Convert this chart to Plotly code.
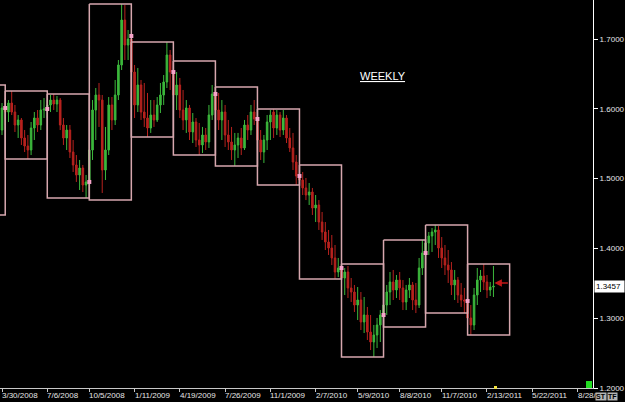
import pandas as pd
import plotly.graph_objects as go

# ---------------- weekly candles (week starting Sunday) ----------------
weeks = pd.date_range("2008-03-30", periods=153, freq="7D")

opens = [
    1.5696,
    # Q2 2008
    1.6012, 1.5954, 1.6083, 1.5954, 1.5768, 1.5840, 1.5582, 1.5467, 1.5410, 1.5725, 1.5868, 1.5768, 1.5983,
    # Q3 2008
    1.5997, 1.6055, 1.6126, 1.6069, 1.6126, 1.5768, 1.5582, 1.5696, 1.5381, 1.5195, 1.5052, 1.5152, 1.4908,
    # Q4 2008
    1.4952, 1.5410, 1.5983, 1.6198, 1.6126, 1.5123, 1.5410, 1.6055, 1.5840, 1.6198, 1.6628, 1.7272, 1.6914,
    # Q1 2009
    1.7000, 1.6527, 1.6055, 1.6341, 1.5954, 1.5868, 1.5725, 1.5911, 1.5840, 1.6055, 1.6198, 1.6384, 1.6771,
    # Q2 2009
    1.6527, 1.6198, 1.6341, 1.5983, 1.5840, 1.6012, 1.5668, 1.5811, 1.5553, 1.5482, 1.5625, 1.5525, 1.5911,
    # Q3 2009
    1.6212, 1.5983, 1.5840, 1.5954, 1.5625, 1.5525, 1.5410, 1.5482, 1.5582, 1.5439, 1.5768, 1.5696, 1.5954,
    # Q4 2009
    1.5854, 1.5553, 1.5381, 1.5553, 1.5811, 1.5954, 1.5725, 1.5911, 1.5696, 1.5868, 1.5582, 1.5439, 1.5238,
    # Q1 2010
    1.5037, 1.4980, 1.4866, 1.4765, 1.4808, 1.4579, 1.4622, 1.4378, 1.4235, 1.4092, 1.4006, 1.3863, 1.3662,
    # Q2 2010
    1.3719, 1.3576, 1.3662, 1.3433, 1.3375, 1.3189, 1.3261, 1.2946, 1.3046, 1.2802, 1.2659, 1.2759, 1.2903,
    # Q3 2010
    1.3046, 1.3189, 1.3375, 1.3519, 1.3404, 1.3547, 1.3433, 1.3232, 1.3404, 1.3476, 1.3261, 1.3189, 1.3719,
    # Q4 2010
    1.3934, 1.4078, 1.4178, 1.4235, 1.4264, 1.4006, 1.3863, 1.3762, 1.3691, 1.3476, 1.3547, 1.3332, 1.3261,
    # Q1 2011
    1.3246, 1.3003, 1.2903, 1.3332, 1.3547, 1.3605, 1.3519, 1.3404, 1.3447,
]

highs = [
    1.6083,
    1.6155, 1.6126, 1.6255, 1.6055, 1.5911, 1.5868, 1.5696, 1.5625, 1.5811, 1.5954, 1.5983, 1.6126, 1.6155,
    1.6126, 1.6198, 1.6212, 1.6184, 1.6155, 1.5868, 1.5768, 1.5768, 1.5553, 1.5338, 1.5267, 1.5195, 1.5052,
    1.5553, 1.6126, 1.6298, 1.6370, 1.6198, 1.5740, 1.6169, 1.6169, 1.6413, 1.6699, 1.7502, 1.7487, 1.7129,
    1.7000, 1.6628, 1.6585, 1.6413, 1.6370, 1.6227, 1.6126, 1.6126, 1.6169, 1.6370, 1.6484, 1.6957, 1.6843,
    1.6685, 1.6527, 1.6442, 1.6270, 1.6126, 1.6055, 1.5940, 1.5868, 1.5797, 1.5740, 1.5725, 1.6055, 1.6341,
    1.6312, 1.6227, 1.6126, 1.6055, 1.5840, 1.5740, 1.5654, 1.5654, 1.5725, 1.5840, 1.5911, 1.6055, 1.6126,
    1.5911, 1.5696, 1.5625, 1.5911, 1.5983, 1.5997, 1.5983, 1.5954, 1.5983, 1.5911, 1.5725, 1.5654, 1.5338,
    1.5195, 1.5095, 1.5009, 1.4937, 1.4866, 1.4765, 1.4693, 1.4522, 1.4378, 1.4264, 1.4192, 1.4049, 1.3863,
    1.3777, 1.3719, 1.3748, 1.3576, 1.3476, 1.3447, 1.3375, 1.3304, 1.3161, 1.3046, 1.2903, 1.3003, 1.3117,
    1.3261, 1.3476, 1.3662, 1.3691, 1.3619, 1.3662, 1.3547, 1.3476, 1.3576, 1.3519, 1.3505, 1.3863, 1.4121,
    1.4192, 1.4235, 1.4292, 1.4335, 1.4321, 1.4163, 1.4049, 1.3977, 1.3805, 1.3691, 1.3590, 1.3505, 1.3433,
    1.3332, 1.3189, 1.3433, 1.3719, 1.3691, 1.3777, 1.3619, 1.3519, 1.3748,
]

lows = [
    1.5625,
    1.5768, 1.5811, 1.5911, 1.5668, 1.5582, 1.5482, 1.5381, 1.5281, 1.5338, 1.5553, 1.5668, 1.5696, 1.5868,
    1.5868, 1.5954, 1.5983, 1.5954, 1.5696, 1.5482, 1.5410, 1.5295, 1.5095, 1.4952, 1.4837, 1.4808, 1.4722,
    1.4693, 1.5267, 1.5553, 1.5740, 1.4794, 1.4980, 1.5338, 1.5696, 1.5768, 1.6126, 1.6556, 1.6699, 1.6699,
    1.6126, 1.5868, 1.5954, 1.5840, 1.5740, 1.5596, 1.5654, 1.5740, 1.5811, 1.5940, 1.6055, 1.6298, 1.6270,
    1.6055, 1.5983, 1.5868, 1.5696, 1.5654, 1.5553, 1.5510, 1.5453, 1.5338, 1.5367, 1.5410, 1.5439, 1.5840,
    1.5868, 1.5696, 1.5553, 1.5453, 1.5410, 1.5267, 1.5181, 1.5295, 1.5338, 1.5410, 1.5553, 1.5625, 1.5768,
    1.5410, 1.5267, 1.5224, 1.5410, 1.5553, 1.5582, 1.5625, 1.5596, 1.5625, 1.5510, 1.5381, 1.5123, 1.4908,
    1.4908, 1.4765, 1.4693, 1.4622, 1.4479, 1.4378, 1.4264, 1.4121, 1.3977, 1.3906, 1.3762, 1.3562, 1.3590,
    1.3476, 1.3332, 1.3289, 1.3232, 1.3089, 1.2974, 1.2831, 1.2788, 1.2688, 1.2544, 1.2444, 1.2573, 1.2659,
    1.2874, 1.3046, 1.3189, 1.3261, 1.3289, 1.3261, 1.3117, 1.3117, 1.3289, 1.3117, 1.3074, 1.3146, 1.3619,
    1.3762, 1.3906, 1.3949, 1.4049, 1.3863, 1.3719, 1.3619, 1.3505, 1.3332, 1.3261, 1.3218, 1.3161, 1.3074,
    1.2860, 1.2759, 1.2831, 1.3189, 1.3375, 1.3404, 1.3289, 1.3318, 1.3304,
]

closes = [
    1.6012,
    1.5954, 1.6083, 1.5954, 1.5768, 1.5840, 1.5582, 1.5467, 1.5410, 1.5725, 1.5868, 1.5768, 1.5983, 1.5997,
    1.6055, 1.6126, 1.6069, 1.6126, 1.5768, 1.5582, 1.5696, 1.5381, 1.5195, 1.5052, 1.5152, 1.4908, 1.4952,
    1.5410, 1.5983, 1.6198, 1.6126, 1.5123, 1.5410, 1.6055, 1.5840, 1.6198, 1.6628, 1.7272, 1.6914, 1.7000,
    1.6527, 1.6055, 1.6341, 1.5954, 1.5868, 1.5725, 1.5911, 1.5840, 1.6055, 1.6198, 1.6384, 1.6771, 1.6527,
    1.6198, 1.6341, 1.5983, 1.5840, 1.6012, 1.5668, 1.5811, 1.5553, 1.5482, 1.5625, 1.5525, 1.5911, 1.6212,
    1.5983, 1.5840, 1.5954, 1.5625, 1.5525, 1.5410, 1.5482, 1.5582, 1.5439, 1.5768, 1.5696, 1.5954, 1.5854,
    1.5553, 1.5381, 1.5553, 1.5811, 1.5911, 1.5725, 1.5911, 1.5696, 1.5868, 1.5582, 1.5439, 1.5238, 1.5037,
    1.4980, 1.4866, 1.4765, 1.4808, 1.4579, 1.4622, 1.4378, 1.4235, 1.4092, 1.4006, 1.3863, 1.3662, 1.3719,
    1.3576, 1.3662, 1.3433, 1.3375, 1.3189, 1.3261, 1.2946, 1.3046, 1.2802, 1.2659, 1.2759, 1.2903, 1.3046,
    1.3189, 1.3375, 1.3519, 1.3404, 1.3547, 1.3433, 1.3232, 1.3404, 1.3476, 1.3261, 1.3189, 1.3719, 1.3934,
    1.4078, 1.4178, 1.4235, 1.4264, 1.4006, 1.3863, 1.3762, 1.3691, 1.3476, 1.3547, 1.3332, 1.3261, 1.3246,
    1.3003, 1.2903, 1.3332, 1.3547, 1.3605, 1.3519, 1.3404, 1.3447, 1.3457,
]

# ---------------- quarterly range boxes ----------------
q_start = ["2008-01-06", "2008-04-06", "2008-07-06", "2008-10-05", "2009-01-04", "2009-04-05", "2009-07-05",
           "2009-10-04", "2010-01-03", "2010-04-04", "2010-07-04", "2010-10-03", "2011-01-02"]
q_end = ["2008-04-06", "2008-07-06", "2008-10-05", "2009-01-04", "2009-04-05", "2009-07-05", "2009-10-04",
         "2010-01-03", "2010-04-04", "2010-07-04", "2010-10-03", "2011-01-02", "2011-04-03"]
q_high = [1.6341, 1.6255, 1.6212, 1.7502, 1.6957, 1.6685, 1.6312, 1.5997, 1.5195, 1.3777, 1.4121, 1.4335, 1.3777]
q_low = [1.4479, 1.5281, 1.4722, 1.4693, 1.5596, 1.5338, 1.5181, 1.4908, 1.3562, 1.2444, 1.2874, 1.3074, 1.2759]
q_open = [None, 1.6012, 1.5997, 1.4952, 1.7043, 1.6527, 1.6212, 1.5854, 1.5037, 1.3719, 1.3046, 1.3934, 1.3246]

# ---------------- axis ticks ----------------
x_tick_dates = ["2008-03-30", "2008-07-06", "2008-10-05", "2009-01-11", "2009-04-19", "2009-07-26", "2009-11-01",
                "2010-02-07", "2010-05-09", "2010-08-08", "2010-11-07", "2011-02-13", "2011-05-22", "2011-08-28"]
# the last label is clipped by the price scale in the original, only "8/28/" is visible
x_tick_labels = ["3/30/2008", "7/6/2008", "10/5/2008", "1/11/2009", "4/19/2009", "7/26/2009", "11/1/2009",
                 "2/7/2010", "5/9/2010", "8/8/2010", "11/7/2010", "2/13/2011", "5/22/2011", "8/28/"]
y_ticks = [1.2, 1.3, 1.4, 1.5, 1.6, 1.7]
last_price = 1.3457

FONT = "Liberation Sans, Arial, sans-serif"
GREEN = "#3cb83c"
RED = "#b8221e"
BOX = "#d6a7ae"

fig = go.Figure()

fig.add_trace(go.Candlestick(
    x=weeks, open=opens, high=highs, low=lows, close=closes,
    increasing=dict(line=dict(color=GREEN, width=1), fillcolor=GREEN),
    decreasing=dict(line=dict(color=RED, width=1), fillcolor=RED),
    whiskerwidth=0, hoverinfo="skip",
))

bx, by = [], []
for s, e, h, l in zip(q_start, q_end, q_high, q_low):
    bx += [s, e, e, s, s, None]
    by += [h, h, l, l, h, None]
fig.add_trace(go.Scatter(x=bx, y=by, mode="lines", line=dict(color=BOX, width=1.5),
                         hoverinfo="skip", connectgaps=False))

sx = [s for s, o in zip(q_start, q_open) if o is not None]
sy = [o for o in q_open if o is not None]
fig.add_trace(go.Scatter(x=sx, y=sy, mode="markers",
                         marker=dict(symbol="square", size=4, color="#f6a3c9"),
                         hoverinfo="skip"))

annotations = []
for d, t in zip(x_tick_dates, x_tick_labels):
    annotations.append(dict(x=d, xref="x", y=0, yref="paper", yanchor="top", xanchor="left",
                            text=t, showarrow=False, xshift=-2, yshift=-1,
                            font=dict(family=FONT, size=8, color="#e6e6e6")))
annotations.append(dict(x=1, xref="paper", y=0, yref="paper", xanchor="left", yanchor="top",
                        text="<b>ST</b>", showarrow=False, bgcolor="#b4b4b4", borderpad=0,
                        xshift=2, yshift=-4, font=dict(family=FONT, size=7, color="black")))
annotations.append(dict(x=1, xref="paper", y=0, yref="paper", xanchor="left", yanchor="top",
                        text="<b>TF</b>", showarrow=False, bgcolor="#b4b4b4", borderpad=0,
                        xshift=14, yshift=-4, font=dict(family=FONT, size=7, color="black")))
annotations.append(dict(x=383 / 593, xref="paper", y=1 - 68 / 388, yref="paper",
                        text="<u>WEEKLY</u>", showarrow=False,
                        font=dict(family=FONT, size=11, color="white")))
annotations.append(dict(x=1, xref="paper", y=last_price, yref="y", xanchor="left",
                        text="1.3457 ", showarrow=False, bgcolor="white", borderpad=1, xshift=1,
                        font=dict(family=FONT, size=8, color="black")))
annotations.append(dict(x="2011-03-01", xref="x", y=1.3504, yref="y", text="", showarrow=True,
                        ax=15, ay=0, arrowcolor="#c01818", arrowhead=2, arrowsize=1, arrowwidth=1.5))

shapes = [
    dict(type="rect", xref="paper", yref="paper", x0=586 / 593, x1=592 / 593, y0=0, y1=7 / 388,
         fillcolor="#22dd22", line=dict(width=0)),
    dict(type="rect", xref="paper", yref="paper", x0=494 / 593, x1=497 / 593, y0=-1 / 388, y1=2 / 388,
         fillcolor="#f0e040", line=dict(width=0)),
]

fig.update_layout(
    width=625, height=402,
    margin=dict(l=0, r=32, t=0, b=14),
    paper_bgcolor="black", plot_bgcolor="black",
    showlegend=False,
    annotations=annotations,
    shapes=shapes,
    xaxis=dict(type="date", range=["2008-03-25 16:00", "2011-09-30 12:00"],
               rangeslider=dict(visible=False), showgrid=False, zeroline=False,
               showline=True, linecolor="#c8c8c8", linewidth=1,
               ticks="outside", ticklen=3, tickcolor="#c8c8c8",
               tickvals=x_tick_dates, showticklabels=False),
    yaxis=dict(side="right", range=[1.2, 1.7559], showgrid=False, zeroline=False,
               showline=True, linecolor="white", linewidth=1,
               ticks="outside", ticklen=4, tickcolor="white",
               tickvals=y_ticks, tickformat=".4f",
               tickfont=dict(family=FONT, size=8, color="#e6e6e6")),
)

fig.write_html("out.html")
